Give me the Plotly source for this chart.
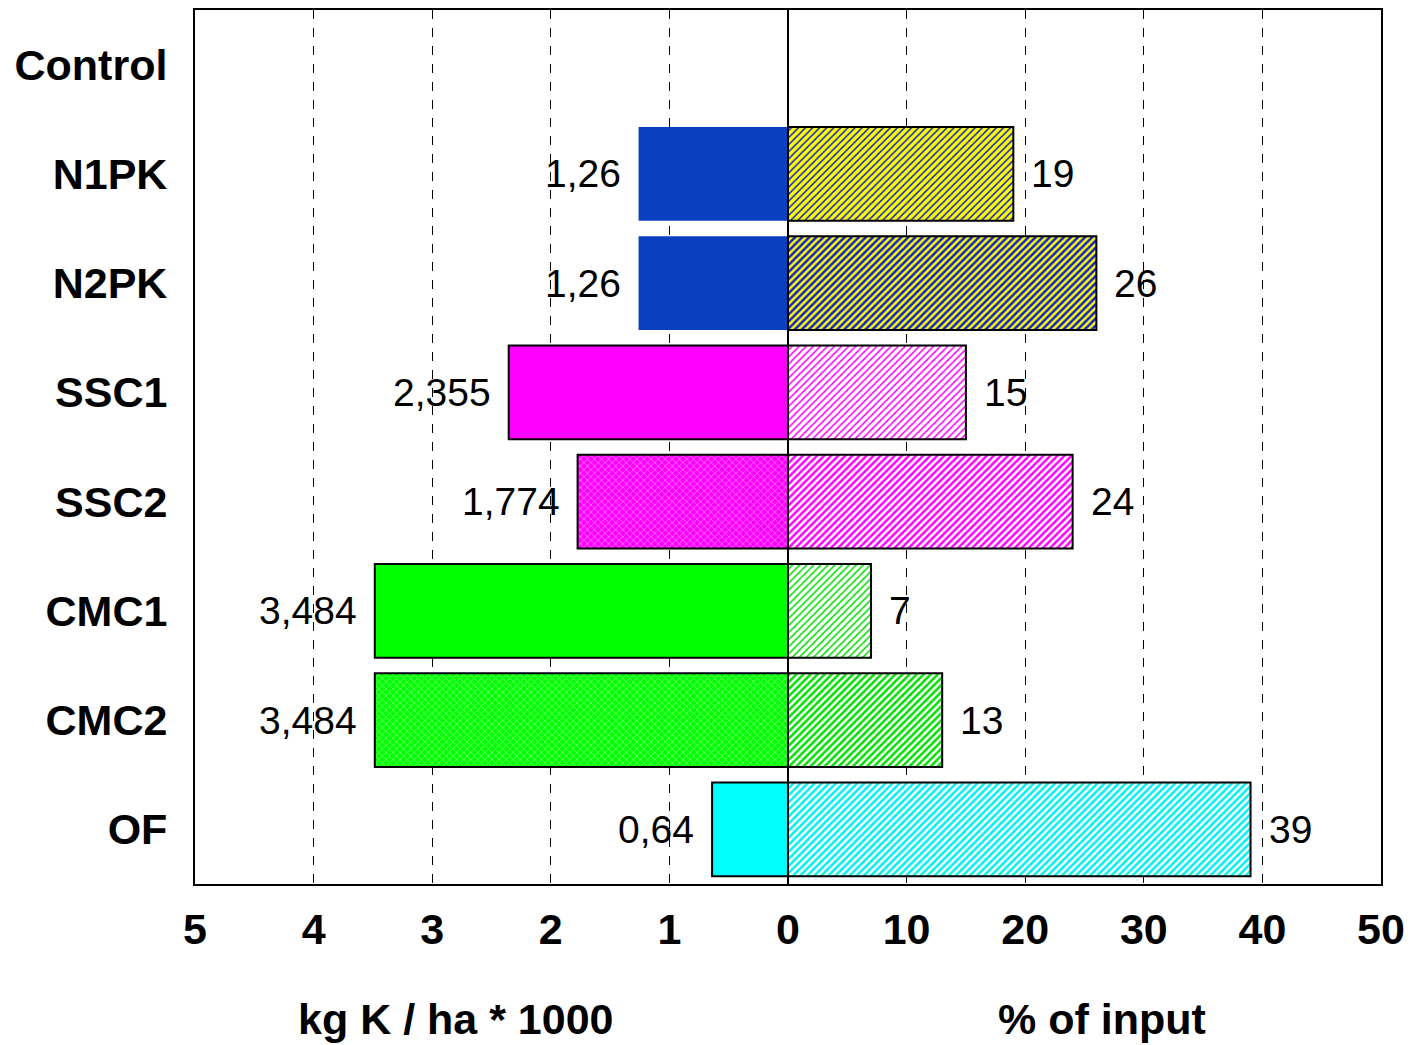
import plotly.graph_objects as go

# Treatments (top to bottom)
categories = ["Control", "N1PK", "N2PK", "SSC1", "SSC2", "CMC1", "CMC2", "OF"]

# K input, kg K / ha * 1000 (left half)
k_input = [None, 1.26, 1.26, 2.355, 1.774, 3.484, 3.484, 0.64]
# Share of input, % (right half)
pct_input = [None, 19, 26, 15, 24, 7, 13, 39]

# Tick labels for the shared axis: left half in kg units, right half in %
tick_vals = [-50, -40, -30, -20, -10, 0, 10, 20, 30, 40, 50]
tick_text = ["5", "4", "3", "2", "1", "0", "10", "20", "30", "40", "50"]

# Left half is drawn on the % scale: 1 kg unit = 10 % units
SCALE = 10
FONT = "Liberation Sans, Arial, sans-serif"

# Fill styles per treatment
left_color = ["#FFFFFF", "#0A40C0", "#0A40C0", "#FF00FF", "#FF00FF", "#00FF00", "#00FF00", "#00FFFF"]
left_shape = ["", "", "", "", "x", "", "x", ""]
left_line_w = [0, 0, 0, 2, 2, 2, 2, 2]

right_bg = ["#FFFFFF", "#FFFF00", "#FFFF00", "#FFFFFF", "#FFFFFF", "#FFFFFF", "#FFFFFF", "#FFFFFF"]
right_fg = ["#000000", "#1020D0", "#1020D0", "#FF00FF", "#FF00FF", "#00E000", "#00E000", "#00F0F0"]
right_solidity = [0.3, 0.3, 0.5, 0.3, 0.5, 0.3, 0.5, 0.5]

fig = go.Figure()

for i, cat in enumerate(categories):
    kv, pv = k_input[i], pct_input[i]
    if kv is not None:
        fig.add_trace(go.Bar(
            y=[cat], x=[-kv * SCALE], base=0, orientation="h",
            marker=dict(
                color=left_color[i],
                line=dict(color="black", width=left_line_w[i]),
                pattern=dict(shape=left_shape[i], fgcolor="#FFFFFF", fgopacity=0.7,
                             size=5, solidity=0.2, fillmode="overlay"),
            ),
            showlegend=False, hoverinfo="skip",
        ))
    if pv is not None:
        fig.add_trace(go.Bar(
            y=[cat], x=[pv], base=0, orientation="h",
            marker=dict(
                color=right_bg[i],
                line=dict(color="black", width=2),
                pattern=dict(shape="/", fgcolor=right_fg[i], fgopacity=1,
                             size=5, solidity=right_solidity[i], fillmode="overlay"),
            ),
            showlegend=False, hoverinfo="skip",
        ))

# Value labels beside each bar
annotations = []
for cat, kv, pv in zip(categories, k_input, pct_input):
    if kv is not None:
        annotations.append(dict(
            x=-kv * SCALE, y=cat, xref="x", yref="y", text=str(kv).replace(".", ","),
            showarrow=False, xanchor="right", xshift=-16,
            font=dict(family=FONT, size=39, color="black"),
        ))
    if pv is not None:
        annotations.append(dict(
            x=pv, y=cat, xref="x", yref="y", text=str(pv),
            showarrow=False, xanchor="left", xshift=16,
            font=dict(family=FONT, size=39, color="black"),
        ))

# Axis titles for the two halves
annotations.append(dict(x=-28, y=-0.155, xref="x", yref="paper", text="<b>kg K / ha * 1000</b>",
                        showarrow=False, xanchor="center", yanchor="middle",
                        font=dict(family=FONT, size=43, color="black")))
annotations.append(dict(x=26.5, y=-0.155, xref="x", yref="paper", text="<b>% of input</b>",
                        showarrow=False, xanchor="center", yanchor="middle",
                        font=dict(family=FONT, size=43, color="black")))

fig.update_layout(
    width=1413, height=1045,
    margin=dict(l=195, r=28, t=8, b=161),
    paper_bgcolor="white", plot_bgcolor="white",
    barmode="overlay", bargap=0.14,
    annotations=annotations,
    font=dict(family=FONT, color="black"),
)

fig.update_xaxes(
    range=[-50, 50], tickvals=tick_vals, ticktext=tick_text,
    tickfont=dict(family=FONT, size=43, color="black", weight="bold"),
    showgrid=True, gridcolor="black", gridwidth=1, griddash="dash",
    zeroline=True, zerolinecolor="black", zerolinewidth=2,
    showline=True, linecolor="black", linewidth=2, mirror=True,
    ticks="", ticklabelstandoff=6,
)

fig.update_yaxes(
    type="category", categoryorder="array", categoryarray=categories,
    tickvals=categories, ticktext=categories,
    range=[len(categories) - 0.5, -0.5],
    tickfont=dict(family=FONT, size=43, color="black", weight="bold"),
    showgrid=False, zeroline=False,
    showline=True, linecolor="black", linewidth=2, mirror=True,
    ticks="", ticklabelstandoff=17,
)

fig.write_html("out.html")
